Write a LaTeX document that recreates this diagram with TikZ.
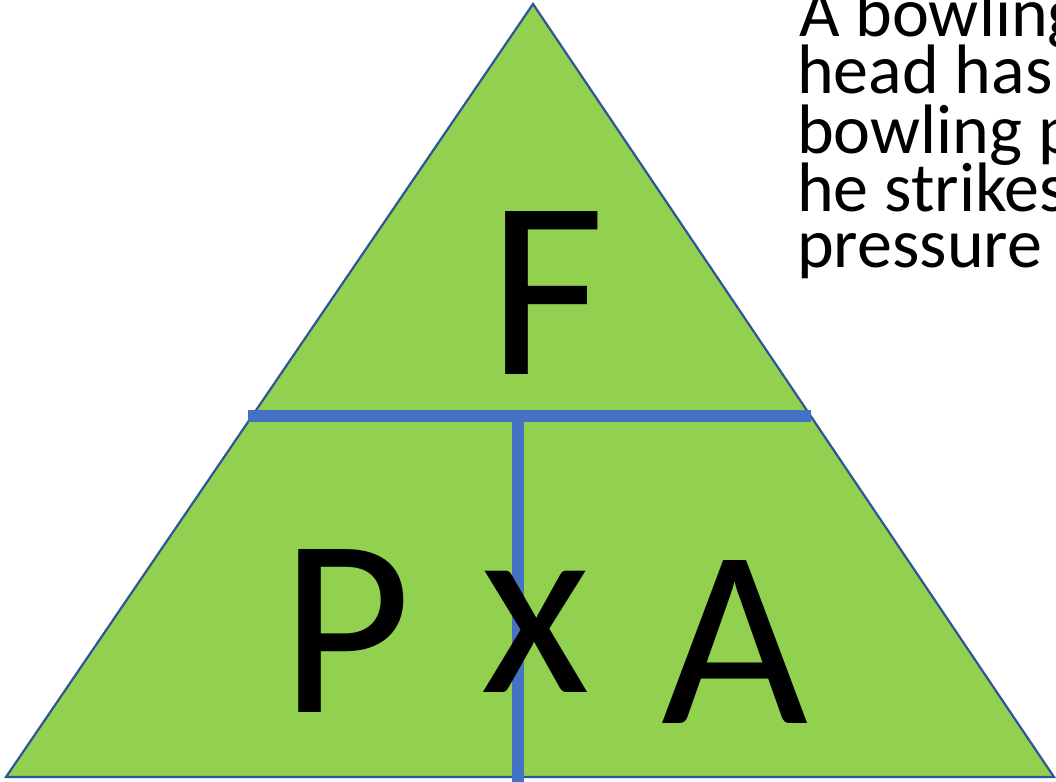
\documentclass[tikz,border=0pt]{standalone}
\usepackage{fontspec}
\setmainfont{Carlito}
\definecolor{trifill}{HTML}{92D050}
\definecolor{triedge}{HTML}{2F5597}
\definecolor{barblue}{HTML}{4472C4}
\begin{document}
\begin{tikzpicture}[x=1pt,y=-1pt,
  bigletter/.style={anchor=base west,inner sep=0pt,font=\fontsize{254}{254}\selectfont},
  bodytext/.style={anchor=base west,inner sep=0pt,font=\fontsize{70}{70}\selectfont},
  bar/.style={barblue,line width=12pt}]
\useasboundingbox (0,0) rectangle (1056,781);
\clip (0,0) rectangle (1056,781);
\fill[white] (0,0) rectangle (1056,781);
\coordinate (apex) at (533,4);
\coordinate (bl) at (6,777);
\coordinate (br) at (1054,777);
\filldraw[fill=trifill,draw=triedge,line width=2.2pt,line join=miter] (apex) -- (br) -- (bl) -- cycle;
\coordinate (hl) at (248,416);
\coordinate (hr) at (811,416);
\coordinate (vt) at (517.5,416);
\coordinate (vb) at (517.5,790);
\draw[bar] (vt) -- (vb);
\draw[bar] (hl) -- (hr);
\node[bigletter] (F) at (488,374) {F};
\node[bigletter] (P) at (280,712) {P};
\node[bigletter] (X) at (480,692) {x};
\node[bigletter] (A) at (661,723) {A};
\node[bodytext] (l1) at (799,37) {A bowling};
\node[bodytext] (l2) at (797,94) {head has};
\node[bodytext] (l3) at (797,153) {bowling p};
\node[bodytext] (l4) at (797,211) {he strikes};
\node[bodytext] (l5) at (797,267) {pressure};
\end{tikzpicture}
\end{document}
